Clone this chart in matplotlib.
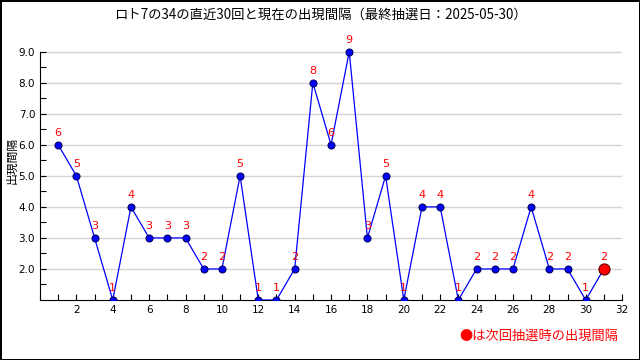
import matplotlib
matplotlib.use('Agg')
import matplotlib.pyplot as plt
from matplotlib.ticker import MultipleLocator, FormatStrFormatter, FixedLocator

plt.rcParams['font.family'] = ['Noto Sans CJK JP', 'DejaVu Sans']

# 直近30回の出現間隔 + 現在
draws = list(range(1, 32))
intervals = [6, 5, 3, 1, 4, 3, 3, 3, 2, 2, 5, 1, 1, 2, 8, 6, 9, 3, 5, 1,
             4, 4, 1, 2, 2, 2, 4, 2, 2, 1, 2]
title = 'ロト7の34の直近30回と現在の出現間隔（最終抽選日：2025-05-30）'
ylabel = '出現間隔'
note = '●は次回抽選時の出現間隔'

fig = plt.figure(figsize=(6.4, 3.6), dpi=100)
fig.patch.set_edgecolor('black')
fig.patch.set_linewidth(2)
ax = fig.add_axes([0.0625, 0.1667, 0.9095, 0.75])

ax.plot(draws, intervals, color='blue', lw=0.9, zorder=3)
ax.plot(draws[:-1], intervals[:-1], 'o', ms=5, mfc='blue', mec='#000066',
        mew=0.8, zorder=4)
ax.plot(draws[-1], intervals[-1], 'o', ms=8, mfc='red', mec='#660000',
        mew=0.8, zorder=5, clip_on=False)

for x, y in zip(draws, intervals):
    ax.annotate(str(y), (x, y), xytext=(0, 5), textcoords='offset points',
                ha='center', va='bottom', color='red', fontsize=8,
                family='DejaVu Sans', zorder=6)

ax.set_xlim(0, 32)
ax.set_ylim(1.0, 9.7)
ax.xaxis.set_major_locator(MultipleLocator(2))
ax.xaxis.set_minor_locator(MultipleLocator(1))
ax.set_yticks([2, 3, 4, 5, 6, 7, 8, 9])
ax.yaxis.set_minor_locator(FixedLocator([1.5 + i for i in range(8)]))
ax.yaxis.set_major_formatter(FormatStrFormatter('%.1f'))
ax.set_xticks(range(2, 33, 2))
ax.tick_params(which='both', direction='in', labelsize=7.5, width=0.8,
               length=4)
for lab in ax.get_xticklabels() + ax.get_yticklabels():
    lab.set_family('DejaVu Sans')

ax.grid(axis='y', color='#d4d4d4', lw=1)
ax.set_axisbelow(True)
for s in ['top', 'right']:
    ax.spines[s].set_visible(False)
ax.spines['left'].set_bounds(1, 9)

fig.text(0.5, 0.96, title, ha='center', va='center', fontsize=9.6)
fig.text(0.018, 0.555, ylabel, ha='center', va='center', rotation=90,
         fontsize=8.5)
fig.text(0.966, 0.067, note, ha='right', va='center', color='red',
         fontsize=9.5)

fig.savefig('out.png', dpi=100, edgecolor=fig.get_edgecolor())
